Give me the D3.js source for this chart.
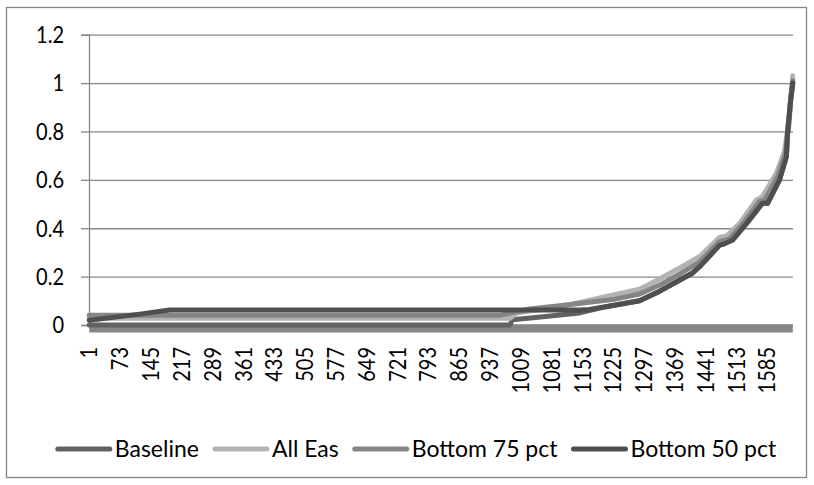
<!DOCTYPE html>
<html>
<head>
<meta charset="utf-8">
<script src="https://cdn.jsdelivr.net/npm/d3@7"></script>
<style>
  html, body { margin: 0; padding: 0; background: #fff; }
  svg { display: block; }
  text { font-family: Lato, "Open Sans", sans-serif; fill: #000; }
</style>
</head>
<body>
<svg id="chart" width="814" height="485"></svg>
<script>
// ---- data ----
const categoryCount = 1645;
const xTickLabels = ["1","73","145","217","289","361","433","505","577","649","721","793","865","937","1009","1081","1153","1225","1297","1369","1441","1513","1585"];
const yTicks = [0, 0.2, 0.4, 0.6, 0.8, 1, 1.2];
const seriesNames = ["Baseline", "All Eas", "Bottom 75 pct", "Bottom 50 pct"];

// [category index, value] key points
const baseline = [[1,0],[984,0],[990,0.022],[1050,0.032],[1147,0.05],[1194,0.07],[1287,0.1],[1334,0.14],[1411,0.215],[1427,0.241],[1474,0.33],[1481,0.333],[1504,0.351],[1537,0.42],[1574,0.503],[1586,0.503],[1614,0.6],[1630,0.696],[1633,0.8],[1640,0.93],[1645,1.0]];
const allEas = [[1,0.028],[984,0.028],[1000,0.05],[1100,0.075],[1194,0.112],[1287,0.148],[1334,0.19],[1380,0.235],[1427,0.282],[1474,0.362],[1490,0.368],[1521,0.42],[1560,0.517],[1574,0.53],[1607,0.628],[1626,0.72],[1636,0.85],[1642,0.97],[1645,1.03]];
const bottom75 = [[1,0.04],[960,0.04],[1000,0.055],[1030,0.066],[1100,0.08],[1224,0.105],[1287,0.128],[1334,0.165],[1380,0.21],[1427,0.26],[1474,0.345],[1497,0.356],[1529,0.42],[1567,0.51],[1580,0.517],[1610,0.615],[1628,0.71],[1636,0.83],[1641,0.95],[1645,1.01]];
const bottom50 = [[1,0.02],[119,0.045],[189,0.062],[1147,0.062],[1170,0.064],[1194,0.072],[1287,0.1],[1334,0.14],[1411,0.215],[1427,0.241],[1474,0.33],[1481,0.333],[1504,0.351],[1537,0.42],[1574,0.503],[1586,0.503],[1614,0.6],[1630,0.696],[1633,0.8],[1640,0.93],[1645,1.0]];
const floorBand = [[1,-0.016],[1645,-0.016]];

// ---- styles ----
const colors = { "Baseline": "#626262", "All Eas": "#b3b3b3", "Bottom 75 pct": "#858585", "Bottom 50 pct": "#4f4f4f" };
const gridColor = "#878787";
const axisFont = 23, axisSquash = 0.87;

const svg = d3.select("#chart");
const plot = { left: 89, right: 793, top: 34.7, bottom: 325 };

const x = d3.scaleLinear().domain([0.5, categoryCount + 0.5]).range([plot.left, plot.right]);
const y = d3.scaleLinear().domain([0, 1.2]).range([plot.bottom, plot.top]);

// outer border
svg.append("rect").attr("x", 6.5).attr("y", 7.5).attr("width", 800).attr("height", 470)
  .attr("fill", "#fff").attr("stroke", "#868686").attr("stroke-width", 1.3);

// gridlines + y axis (ticks from the axis generator, labels drawn squashed)
const yAxis = d3.axisLeft(y).tickValues(yTicks).tickSize(8).tickFormat("");
const gy = svg.append("g").attr("transform", `translate(${plot.left},0)`).call(yAxis);
gy.select(".domain").attr("stroke", gridColor).attr("stroke-width", 1.3);
gy.selectAll(".tick line").attr("stroke", gridColor).attr("stroke-width", 1.3);
gy.selectAll(".tick").append("line")
  .attr("x1", 0).attr("x2", plot.right - plot.left)
  .attr("stroke", gridColor).attr("stroke-width", 1.3);

svg.append("g").selectAll("text").data(yTicks).join("text")
  .attr("transform", d => `translate(64,${y(d)}) scale(${axisSquash},1)`)
  .attr("text-anchor", "end").attr("dy", "0.36em")
  .attr("font-size", axisFont)
  .text(d => String(+d.toFixed(1)));

// x axis line
svg.append("line").attr("x1", plot.left).attr("x2", plot.right)
  .attr("y1", plot.bottom).attr("y2", plot.bottom).attr("stroke", gridColor).attr("stroke-width", 1.3);

// x tick labels
svg.append("g").selectAll("text").data(xTickLabels).join("text")
  .attr("transform", d => `translate(${x(+d)},347) rotate(-90) scale(${axisSquash},1)`)
  .attr("text-anchor", "end").attr("dy", "0.36em")
  .attr("font-size", axisFont)
  .text(d => d);

// lines
const line = d3.line().x(d => x(d[0])).y(d => y(d[1])).curve(d3.curveLinear);
const g = svg.append("g");
g.append("path").datum(floorBand).attr("d", line).attr("fill", "none")
  .attr("stroke", "#858585").attr("stroke-width", 7.5);
const seriesData = [baseline, allEas, bottom75, bottom50];
seriesNames.forEach((name, i) => {
  g.append("path").datum(seriesData[i]).attr("d", line).attr("fill", "none")
    .attr("stroke", colors[name]).attr("stroke-width", 5)
    .attr("stroke-linejoin", "round").attr("stroke-linecap", "round");
});

// legend
const lg = svg.append("g");
const items = seriesNames.map(name => {
  const it = lg.append("g");
  it.append("line").attr("x1", 0).attr("x2", 52).attr("y1", 0).attr("y2", 0)
    .attr("stroke", colors[name]).attr("stroke-width", 5).attr("stroke-linecap", "round");
  const t = it.append("text").attr("x", 57).attr("dy", "0.36em").attr("font-size", 23).text(name);
  return { it, w: 57 + t.node().getComputedTextLength() };
});
const gap = 16;
const total = d3.sum(items, d => d.w) + gap * (items.length - 1);
let cx = 417 - total / 2;
items.forEach(d => { d.it.attr("transform", `translate(${cx},449)`); cx += d.w + gap; });
</script>
</body>
</html>
